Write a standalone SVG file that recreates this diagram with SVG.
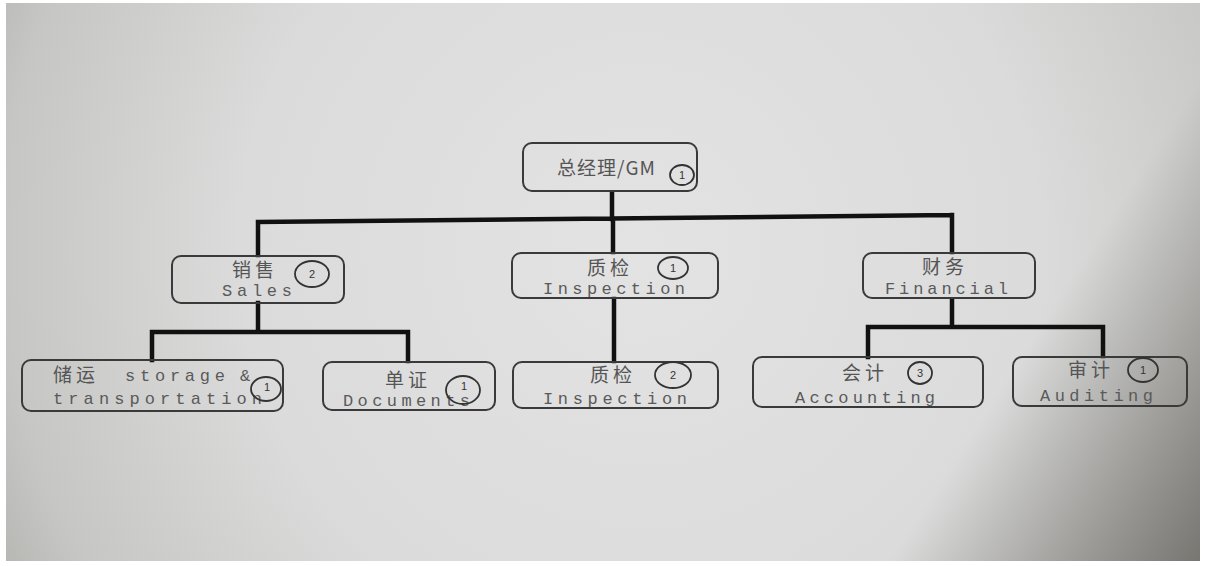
<svg xmlns="http://www.w3.org/2000/svg" width="1206" height="566" viewBox="0 0 1206 566">
<defs>
<radialGradient id="bg" gradientUnits="userSpaceOnUse" cx="640" cy="250" r="800">
<stop offset="0" stop-color="#e3e3e3"/>
<stop offset="0.5" stop-color="#dbdbdb"/>
<stop offset="0.8" stop-color="#c6c6c4"/>
<stop offset="1" stop-color="#a3a29e"/>
</radialGradient>
<linearGradient id="shade" gradientUnits="userSpaceOnUse" x1="980" y1="420" x2="1206" y2="566">
<stop offset="0" stop-color="#3f3d36" stop-opacity="0"/>
<stop offset="1" stop-color="#3f3d36" stop-opacity="0.6"/>
</linearGradient>
<style>
.box{fill:none;stroke:#3a3a3a;stroke-width:2}
.cn{font-family:"Noto Sans CJK SC","Noto Sans CJK JP",sans-serif;font-size:19px;fill:#555;letter-spacing:4px}
.en{font-family:"Liberation Mono",monospace;font-size:17px;fill:#5a5a5a}
.circ{fill:none;stroke:#333;stroke-width:1.8}
.num{font-family:"Liberation Sans",sans-serif;font-size:11px;fill:#333;text-anchor:middle}
.con{fill:none;stroke:#111;stroke-width:4.5;stroke-linecap:square}
</style>
</defs>
<rect width="1206" height="566" fill="#ffffff"/>
<rect x="6" y="3" width="1194" height="558" fill="url(#bg)"/>
<rect x="6" y="3" width="1194" height="558" fill="url(#shade)"/>

<g id="connectors">
<path class="con" d="M612 193 V219 M258 222 L952 215 M258 222 V255 M613 219 V252 M952 215 V252"/>
<path class="con" d="M258 303 V332 M152 332 H408 M152 332 V360 M408 332 V361"/>
<path class="con" d="M614 299 V361"/>
<path class="con" d="M952 300 V327 M868 327 H1103 M868 327 V357 M1103 327 V356"/>
</g>

<g id="gm">
<rect class="box" x="523" y="143" width="174" height="48" rx="9"/>
<text class="cn" x="557" y="175" font-size="16" style="letter-spacing:1px">总经理/GM</text>
<ellipse class="circ" cx="682" cy="175" rx="12" ry="10"/>
<text class="num" x="682" y="179">1</text>
</g>

<g id="sales">
<rect class="box" x="172" y="256" width="172" height="47" rx="9"/>
<text class="cn" x="232" y="277">销售</text>
<text class="en" x="222" y="296" textLength="70" lengthAdjust="spacing">Sales</text>
<ellipse class="circ" cx="312" cy="274" rx="17" ry="13"/>
<text class="num" x="312" y="278">2</text>
</g>

<g id="inspection1">
<rect class="box" x="512" y="253" width="206" height="45" rx="9"/>
<text class="cn" x="587" y="275">质检</text>
<ellipse class="circ" cx="673" cy="268" rx="15" ry="11"/>
<text class="num" x="673" y="272">1</text>
<text class="en" x="543" y="294" textLength="142" lengthAdjust="spacing">Inspection</text>
</g>

<g id="financial">
<rect class="box" x="863" y="253" width="172" height="45" rx="9"/>
<text class="cn" x="922" y="274">财务</text>
<text class="en" x="885" y="294" textLength="123" lengthAdjust="spacing">Financial</text>
</g>

<g id="storage">
<rect class="box" x="22" y="360" width="261" height="51" rx="9"/>
<text class="cn" x="53" y="382">储运</text>
<text class="en" x="125" y="381" textLength="100" lengthAdjust="spacing">storage</text>
<text class="en" x="240" y="381">&amp;</text>
<text class="en" x="53" y="404" textLength="209" lengthAdjust="spacing">transportation</text>
<ellipse class="circ" cx="266" cy="389" rx="15" ry="12"/>
<text class="num" x="267" y="391">1</text>
</g>

<g id="documents">
<rect class="box" x="323" y="362" width="172" height="48" rx="9"/>
<text class="cn" x="385" y="387">单证</text>
<text class="en" x="343" y="406" textLength="127" lengthAdjust="spacing">Documents</text>
<ellipse class="circ" cx="463" cy="390" rx="17" ry="14"/>
<text class="num" x="464" y="390">1</text>
</g>

<g id="inspection2">
<rect class="box" x="513" y="362" width="205" height="46" rx="9"/>
<text class="cn" x="590" y="382">质检</text>
<ellipse class="circ" cx="673" cy="375" rx="18" ry="13"/>
<text class="num" x="673" y="379">2</text>
<text class="en" x="543" y="404" textLength="144" lengthAdjust="spacing">Inspection</text>
</g>

<g id="accounting">
<rect class="box" x="753" y="357" width="230" height="50" rx="9"/>
<text class="cn" x="842" y="380">会计</text>
<ellipse class="circ" cx="920" cy="373" rx="12" ry="11"/>
<text class="num" x="920" y="377">3</text>
<text class="en" x="795" y="403" textLength="140" lengthAdjust="spacing">Accounting</text>
</g>

<g id="auditing">
<rect class="box" x="1013" y="357" width="174" height="49" rx="9"/>
<text class="cn" x="1068" y="377">审计</text>
<ellipse class="circ" cx="1143" cy="370" rx="15" ry="12"/>
<text class="num" x="1143" y="374">1</text>
<text class="en" x="1040" y="401" textLength="113" lengthAdjust="spacing">Auditing</text>
</g>
</svg>
